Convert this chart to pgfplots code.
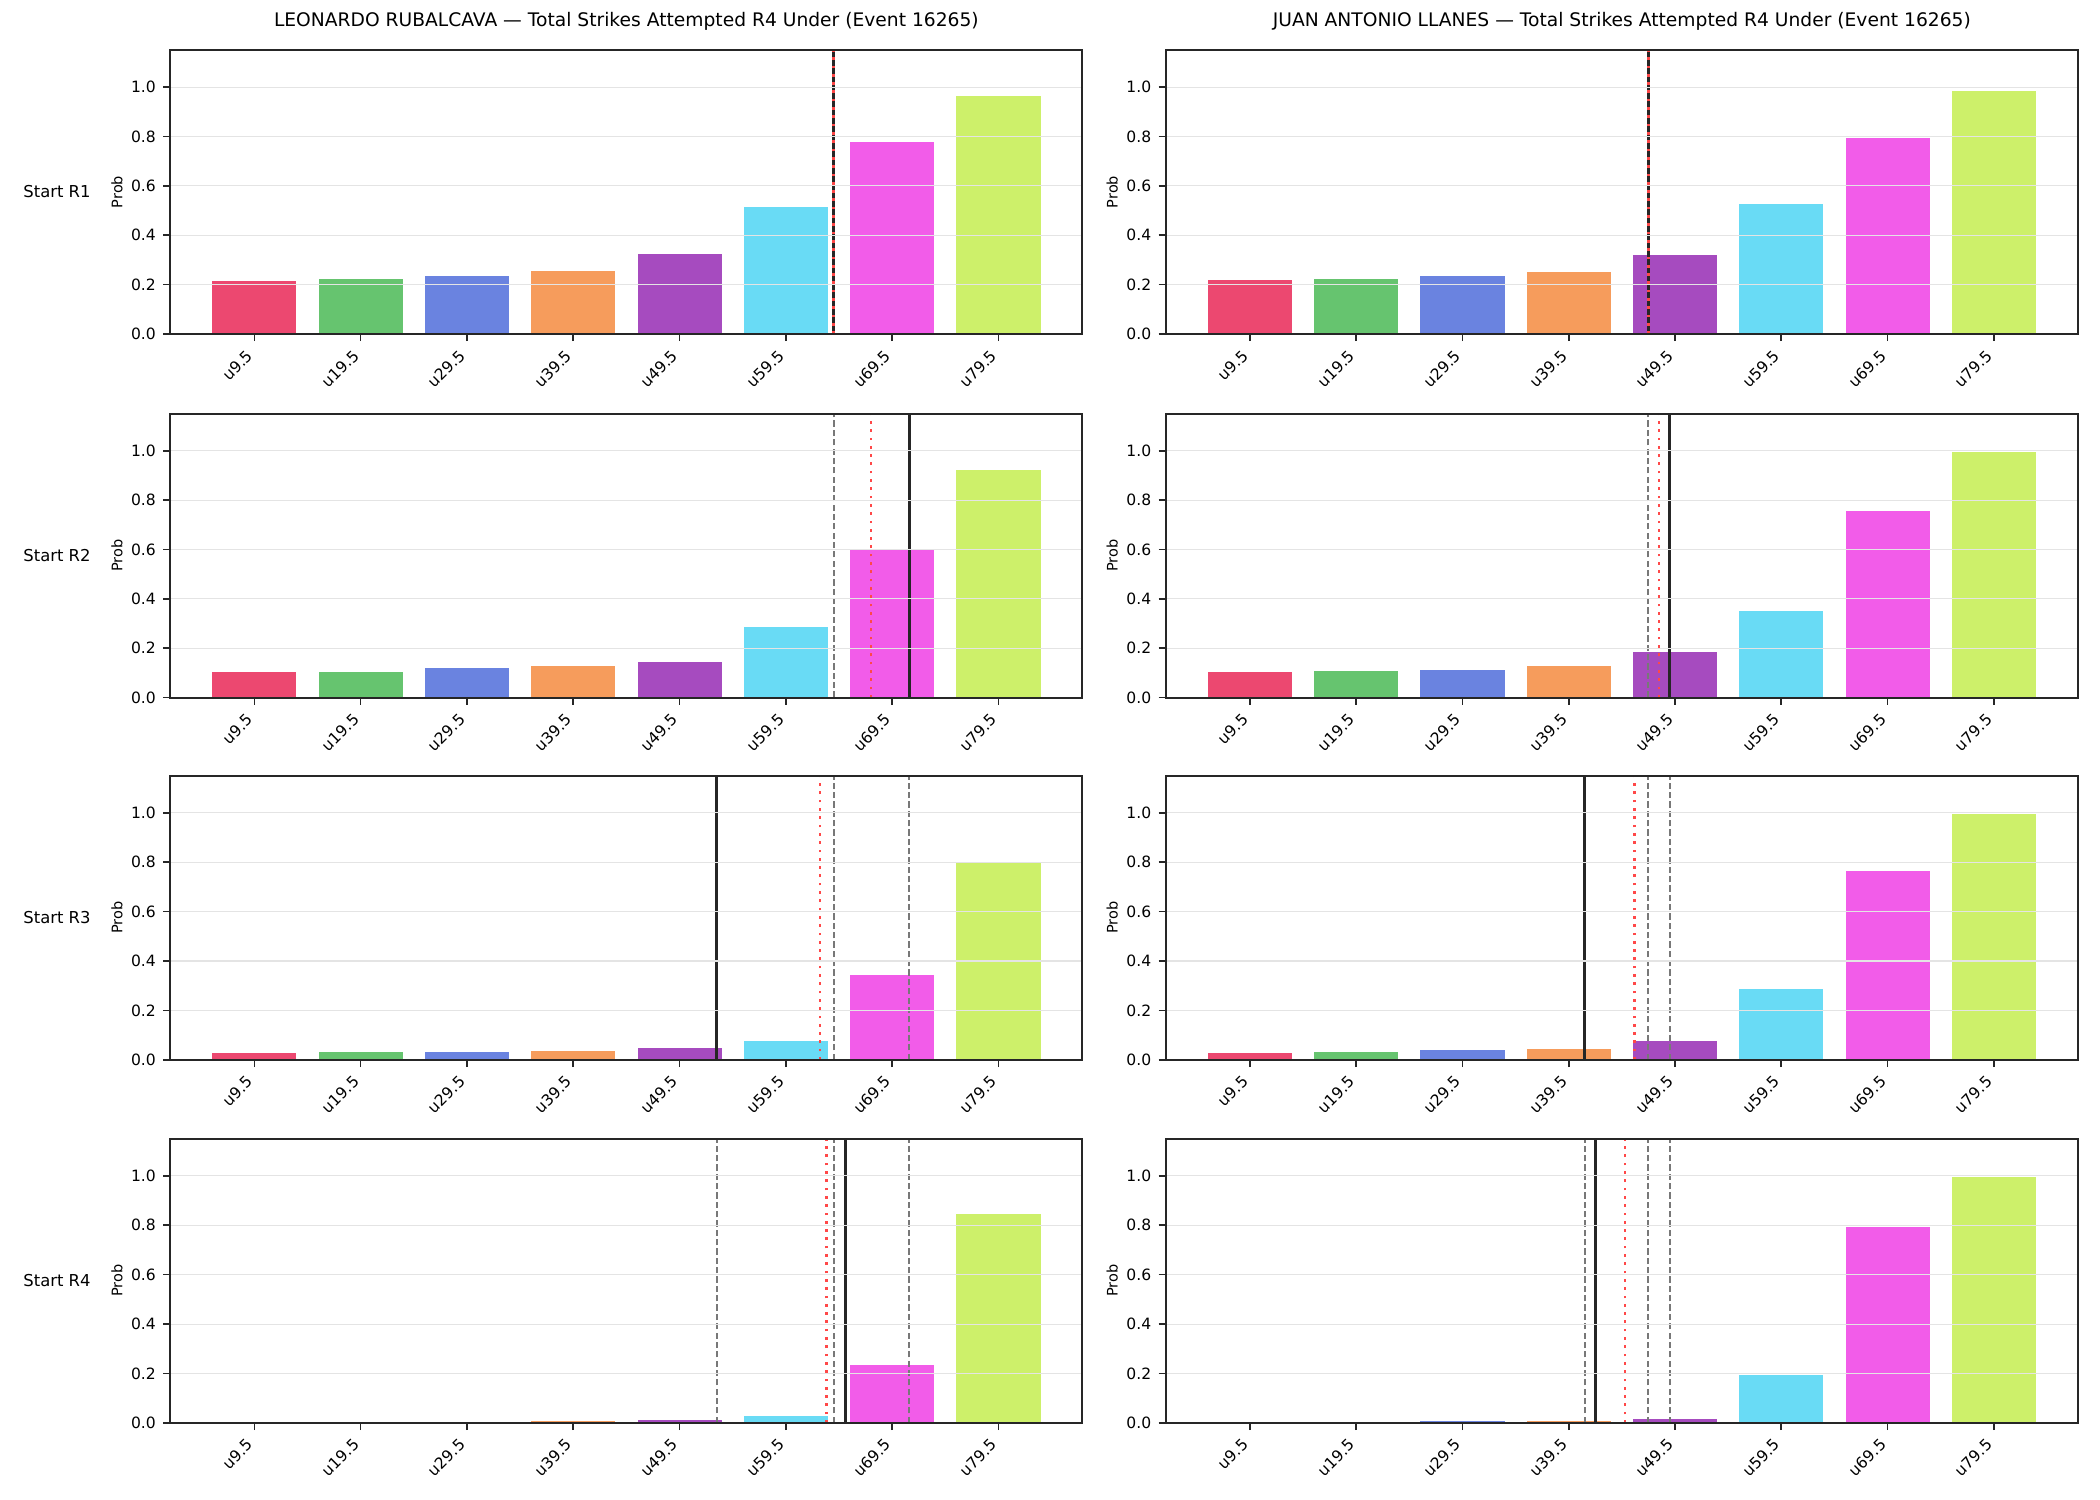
\documentclass[border=0pt]{standalone}
\usepackage{fontspec}
\setmainfont{DejaVu Sans}
\usepackage{graphicx}
\usepackage{pgfplots}
\usepackage{pgfplotstable}
\pgfplotsset{compat=1.18}

% bar colours, one per threshold
\definecolor{barc0}{RGB}{236,72,112}
\definecolor{barc1}{RGB}{102,196,111}
\definecolor{barc2}{RGB}{106,131,224}
\definecolor{barc3}{RGB}{246,156,92}
\definecolor{barc4}{RGB}{166,75,191}
\definecolor{barc5}{RGB}{105,219,245}
\definecolor{barc6}{RGB}{242,92,233}
\definecolor{barc7}{RGB}{205,240,106}
\definecolor{spine}{RGB}{38,38,38}
\definecolor{refred}{RGB}{255,72,72}
\definecolor{prevgray}{RGB}{120,120,120}
\definecolor{gridgray}{RGB}{228,228,228}

% P(total < threshold) after each round start; L = Rubalcava, R = Llanes
\pgfplotstableread{
idx L1    L2    L3    L4    R1    R2    R3    R4
0   0.216 0.104 0.028 0.001 0.221 0.104 0.028 0.0005
1   0.224 0.108 0.035 0.006 0.225 0.112 0.035 0.003
2   0.236 0.121 0.035 0.006 0.237 0.116 0.040 0.011
3   0.256 0.132 0.039 0.011 0.252 0.132 0.048 0.011
4   0.325 0.148 0.052 0.015 0.321 0.185 0.077 0.019
5   0.515 0.290 0.079 0.028 0.527 0.354 0.289 0.197
6   0.778 0.605 0.346 0.237 0.795 0.759 0.766 0.795
7   0.968 0.925 0.798 0.847 0.988 0.997 0.997 0.996
}\probtab

\newcommand\ticksize{\fontsize{7.5}{9}\selectfont}
\newcommand\rl[1]{\rotatebox{45}{#1}}

\pgfplotsset{
  panel/.style={
    scale only axis, width=439.4pt, height=136.8pt,
    xmin=-0.79, xmax=7.79, ymin=0, ymax=1.15,
    axis on top,
    axis line style={spine, line width=0.9pt},
    tick pos=left, tick align=outside, major tick length=3.5pt,
    tick style={spine, line width=0.8pt},
    xtick={0,1,2,3,4,5,6,7},
    xticklabels={\rl{u9.5},\rl{u19.5},\rl{u29.5},\rl{u39.5},
                 \rl{u49.5},\rl{u59.5},\rl{u69.5},\rl{u79.5}},
    xticklabel style={anchor=north east, inner xsep=0pt, inner ysep=2.5pt,
      yshift=-1pt, font=\ticksize},
    ytick={0,0.2,0.4,0.6,0.8,1.0},
    yticklabel style={font=\ticksize, /pgf/number format/fixed,
      /pgf/number format/fixed zerofill, /pgf/number format/precision=1},
    /pgf/number format/assume math mode=true,
    ymajorgrids=true, major grid style={gridgray, line width=0.5pt},
    ylabel=Prob,
    ylabel style={at={(axis description cs:-0.0587,0.5)}, anchor=center,
      font=\fontsize{7}{8}\selectfont},
    title style={at={(axis description cs:0.5,1)}, anchor=base, yshift=5.3pt,
      font=\fontsize{9}{10}\selectfont},
  },
  bar/.style={ybar, bar width=0.8, bar shift=0pt, draw=white, line width=0.4pt},
  actual/.style={spine, line width=1.5pt},
  prior/.style={prevgray, line width=1pt, dash pattern=on 3pt off 1.5pt},
  expect/.style={refred, line width=1.3pt, dash pattern=on 1.3pt off 2.7pt},
}

\newcommand\drawbars[1]{%
  \pgfplotsinvokeforeach{0,...,7}{%
    \addplot[bar, fill=barc##1] table[x=idx, y=#1,
      restrict expr to domain={\coordindex}{##1:##1}] {\probtab};
  }%
}
\newcommand\refline[2]{\addplot[#1] coordinates {(#2,0) (#2,1.15)};}

\begin{document}
\begin{tikzpicture}
\path[use as bounding box] (0,0) rectangle (1011.78pt,722.7pt);

% ---- Leonardo Rubalcava ----
\begin{axis}[panel, at={(82.1pt,561.8pt)}, anchor=south west,
  title={LEONARDO RUBALCAVA — Total Strikes Attempted R4 Under (Event 16265)}]
  \drawbars{L1}
  \refline{actual}{5.45}
  \refline{expect}{5.45}
\end{axis}
\begin{axis}[panel, at={(82.1pt,386.6pt)}, anchor=south west]
  \drawbars{L2}
  \refline{prior}{5.45}
  \refline{actual}{6.16}
  \refline{expect}{5.80}
\end{axis}
\begin{axis}[panel, at={(82.1pt,212.1pt)}, anchor=south west]
  \drawbars{L3}
  \refline{prior}{5.45}
  \refline{prior}{6.16}
  \refline{actual}{4.35}
  \refline{expect}{5.32}
\end{axis}
\begin{axis}[panel, at={(82.1pt,37.2pt)}, anchor=south west]
  \drawbars{L4}
  \refline{prior}{4.35}
  \refline{prior}{5.45}
  \refline{prior}{6.16}
  \refline{actual}{5.56}
  \refline{expect}{5.38}
\end{axis}

% ---- Juan Antonio Llanes ----
\begin{axis}[panel, at={(561.7pt,561.8pt)}, anchor=south west,
  title={JUAN ANTONIO LLANES — Total Strikes Attempted R4 Under (Event 16265)}]
  \drawbars{R1}
  \refline{actual}{3.75}
  \refline{expect}{3.75}
\end{axis}
\begin{axis}[panel, at={(561.7pt,386.6pt)}, anchor=south west]
  \drawbars{R2}
  \refline{prior}{3.75}
  \refline{actual}{3.95}
  \refline{expect}{3.85}
\end{axis}
\begin{axis}[panel, at={(561.7pt,212.1pt)}, anchor=south west]
  \drawbars{R3}
  \refline{prior}{3.75}
  \refline{prior}{3.95}
  \refline{actual}{3.15}
  \refline{expect}{3.62}
\end{axis}
\begin{axis}[panel, at={(561.7pt,37.2pt)}, anchor=south west]
  \drawbars{R4}
  \refline{prior}{3.15}
  \refline{prior}{3.75}
  \refline{prior}{3.95}
  \refline{actual}{3.25}
  \refline{expect}{3.53}
\end{axis}

% row labels
\begin{scope}[font=\fontsize{7.9}{9.5}\selectfont]
  \node[anchor=west, inner sep=0pt] at (11.1pt,630.2pt) {Start R1};
  \node[anchor=west, inner sep=0pt] at (11.1pt,455.0pt) {Start R2};
  \node[anchor=west, inner sep=0pt] at (11.1pt,280.5pt) {Start R3};
  \node[anchor=west, inner sep=0pt] at (11.1pt,105.6pt) {Start R4};
\end{scope}
\end{tikzpicture}
\end{document}
